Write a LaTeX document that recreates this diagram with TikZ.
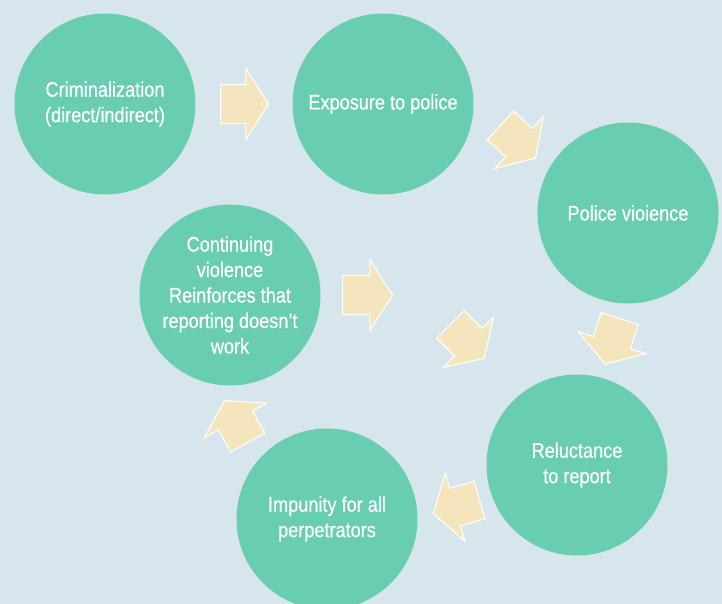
\documentclass[tikz,border=0pt]{standalone}
\usepackage{fontspec}
\setmainfont{Liberation Sans}[FakeStretch=0.86, FakeBold=0.4]
\usetikzlibrary{shapes.arrows, positioning}
\definecolor{cybg}{RGB}{214,230,236}
\definecolor{cyteal}{RGB}{105,205,177}
\definecolor{cysand}{RGB}{245,229,188}

\begin{document}
\begin{tikzpicture}[x=0.2mm, y=-0.2mm,
  stage/.style={circle, fill=cyteal, minimum size=36.2mm, inner sep=0pt, align=center, text=white, font=\fontsize{12}{14.5}\selectfont},
  flow/.style={single arrow, draw=white, line width=0.6pt, fill=cysand, inner xsep=0pt, inner ysep=3.8mm, minimum height=9.6mm, single arrow head extend=3.2mm, single arrow tip angle=115, anchor=tail}
]
\fill[cybg] (0,0) rectangle (722,604);
\clip (0,0) rectangle (722,604);
\node[stage] (crim) at (105,104) {Criminalization\\(direct/indirect)};
\node[stage] (expo) at (383,104) {Exposure to police};
\node[stage] (viol) at (628,213) {Police vioience};
\node[stage] (reluct) at (577,465) {Reluctance\\to report};
\node[stage] (impun) at (327,519) {Impunity for all\\perpetrators};
\node[stage] (cont) at (230,295) {Continuing\\violence\\Reinforces that\\reporting doesn’t\\work};
\node[flow] (crimexpo) at (220,104) {};
\node[flow, rotate=-43] (expoviol) at (500,125) {};
\node[flow, rotate=-108] (violreluct) at (620,318) {};
\node[flow, rotate=-45] (contreluct) at (450,324) {};
\node[flow, minimum height=10mm] (contmid) at (342,295) {};
\node[flow, rotate=119] (impuncont) at (248,443) {};
\node[flow, rotate=-164] (reluctimpun) at (480,500) {};
\end{tikzpicture}
\end{document}
